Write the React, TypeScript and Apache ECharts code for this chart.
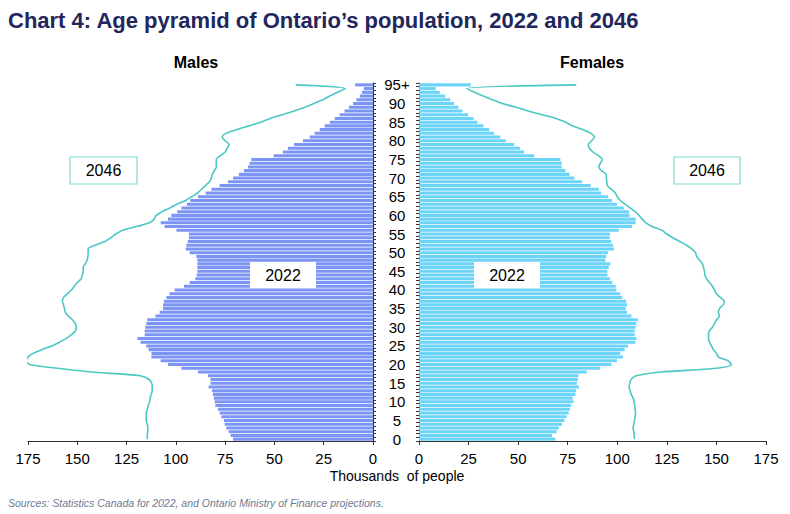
import React, { useEffect, useRef } from 'react';
import * as echarts from 'echarts';

// Ages 0..94 then 95+
const ages: string[] = Array.from({ length: 95 }, (_, i) => String(i)).concat(['95+']);

// Thousands of people, index = age
const males2022: number[] = [
  71, 72.2, 73.2, 74.4, 75.2, 75.6, 76.9, 77.8, 78.6, 80,
  80.3, 80.7, 81.2, 81.7, 83.4, 82.4, 82.4, 83.7, 88.8, 97.2,
  104, 107.7, 112.4, 112.4, 113.8, 115, 117.9, 119.5, 115.8, 115.8,
  115.5, 115, 114.5, 110.4, 108.2, 106.5, 106.5, 106, 104.8, 103.2,
  100.6, 95.9, 93, 90.1, 89.4, 89.1, 89.1, 89.1, 89.1, 89.6,
  93, 95, 94.7, 93.9, 93.4, 93.4, 99.7, 105.7, 107.7, 104,
  102.3, 99.3, 97.2, 94.4, 92.7, 88.8, 84.9, 82, 77.8, 73.6,
  71, 68, 65.4, 63.4, 62.6, 61.7, 50.4, 45.7, 43.1, 40,
  35.5, 32.1, 29.6, 27, 24.5, 21.9, 19.4, 16.9, 14.4, 12.2,
  10.1, 8.4, 6.7, 5.6, 4.7, 9.1
];

const females2022: number[] = [
  68.8, 67.1, 69.4, 70.5, 72.1, 73.3, 74.5, 75.5, 76.2, 76.7,
  77.9, 77.5, 78.9, 79.2, 80.6, 79.6, 80.1, 80.4, 84.6, 91.4,
  97, 99.8, 102.9, 101.5, 103.7, 105.4, 109.1, 109.6, 108.8, 108.8,
  109.3, 109.6, 110.4, 107.1, 104.9, 104.2, 104.9, 104.5, 102.5, 101.5,
  99.5, 99.2, 97.5, 96.4, 95, 95, 95.7, 96.5, 94, 94.4,
  95.3, 98.3, 97.8, 96.9, 96.1, 96.4, 100.8, 107.4, 109.3, 109.3,
  106.2, 105.9, 103.3, 99.8, 97.3, 95.3, 91.9, 90.7, 86.5, 82.3,
  78.4, 75.9, 73.8, 72, 72, 71.3, 58.2, 53.1, 50.9, 48,
  43.8, 41, 37.9, 35.4, 32.5, 29.5, 27.5, 24.8, 21.9, 19.9,
  17.7, 15.7, 13.2, 10.5, 8.4, 26.1
];

const males2046: number[] = [
  114.5, 114.5, 114.3, 114.2, 114.5, 115, 115, 115, 114.5, 114,
  113.3, 113, 112.5, 112, 112, 112.3, 113.5, 118, 143, 160,
  174, 176, 175, 172.5, 168, 163, 159, 155.5, 153, 151,
  150.5, 151, 152.5, 154.5, 156, 156.5, 157, 157.5, 157, 155,
  153, 151.5, 150, 148, 147.5, 147, 147, 146, 145, 144.6,
  144.5, 144.5, 141, 136, 133, 130.5, 127, 120, 113.5, 111,
  110, 107, 103, 99.5, 95, 92, 89, 87, 85, 83,
  82, 81.5, 80.5, 79.5, 79.5, 79.5, 77.5, 75, 74, 73,
  75, 76.5, 74.5, 69, 63, 57, 52, 46, 40, 34.5,
  30, 25.5, 22, 18, 14, 39.2
];

const females2046: number[] = [
  108.7, 108.5, 108.3, 108, 108.3, 108.7, 109, 109.2, 109, 108.8,
  108.5, 108, 107, 106.5, 106, 106.3, 107, 109.5, 122, 150,
  157.5, 156, 151, 150, 148.5, 147.5, 146.5, 146, 146, 146.4,
  148, 149, 150, 151.5, 151, 151.5, 153.4, 154, 152, 150,
  149, 148, 146.5, 145, 144.2, 144, 143.5, 143, 141.5, 140,
  139.5, 137.5, 135, 131.5, 128, 125, 122.5, 117.5, 114.5, 112.5,
  111, 109, 106.5, 104, 101.5, 100, 99, 97, 95, 94.7,
  94.5, 94.4, 92, 90.7, 91.5, 92.4, 90.5, 87.7, 86, 85.3,
  87, 88.5, 86.8, 82.6, 77.5, 74, 69, 62, 55, 49,
  42, 37, 32.5, 28, 24, 79.3
];

const xMax = 175;
const xInterval = 25;

const FONT = 'Liberation Sans, Arial, sans-serif';
const MALE_COLOR = '#7B94F5';
const FEMALE_COLOR = '#6CD4F8';
const LINE_COLOR = '#4CC8C2';

const App: React.FC = () => {
  const chartRef = useRef<HTMLDivElement>(null);

  useEffect(() => {
    document.body.style.margin = '0';
    if (!chartRef.current) return;
    const chart = echarts.init(chartRef.current, undefined, { renderer: 'svg' });

    const axisLabel = { color: '#000', fontSize: 15, fontFamily: FONT, margin: 10 };
    const axisLine = { show: true, lineStyle: { color: '#333', width: 1 } };

    // label box drawn over the series
    const box = (x: number, y: number, w: number, h: number, label: string, border: boolean) => [
      {
        type: 'rect', z: 100,
        shape: { x, y, width: w, height: h },
        style: { fill: '#fff', stroke: border ? '#7FD9D5' : 'none', lineWidth: 1.2 }
      },
      {
        type: 'text', z: 101,
        x: x + w / 2,
        y: y + h / 2,
        style: { text: label, fill: '#000', font: `16px ${FONT}`, textAlign: 'center', textVerticalAlign: 'middle' }
      }
    ];

    const option: any = {
      animation: false,
      backgroundColor: '#fff',
      grid: [
        { left: 28, width: 345, top: 83, height: 358 },
        { left: 419, width: 347, top: 83, height: 358 }
      ],
      xAxis: [
        {
          gridIndex: 0, type: 'value', inverse: true, min: 0, max: xMax, interval: xInterval,
          axisLine, axisTick: { show: true, length: 4, lineStyle: { color: '#333' } },
          axisLabel, splitLine: { show: false }
        },
        {
          gridIndex: 1, type: 'value', min: 0, max: xMax, interval: xInterval,
          axisLine, axisTick: { show: true, length: 4, lineStyle: { color: '#333' } },
          axisLabel, splitLine: { show: false }
        }
      ],
      yAxis: [
        {
          gridIndex: 0, type: 'category', data: ages, position: 'right',
          axisLine, axisTick: { show: true, interval: 0, length: 3, lineStyle: { color: '#333' } },
          axisLabel: {
            ...axisLabel, margin: 24, align: 'center',
            interval: (i: number) => i % 5 === 0
          }
        },
        {
          gridIndex: 1, type: 'category', data: ages, position: 'left',
          axisLine, axisTick: { show: true, interval: 0, length: 3, lineStyle: { color: '#333' } },
          axisLabel: { show: false }
        }
      ],
      series: [
        {
          name: 'Males 2022', type: 'bar', xAxisIndex: 0, yAxisIndex: 0, data: males2022,
          barCategoryGap: '18%', itemStyle: { color: MALE_COLOR }
        },
        {
          name: 'Females 2022', type: 'bar', xAxisIndex: 1, yAxisIndex: 1, data: females2022,
          barCategoryGap: '18%', itemStyle: { color: FEMALE_COLOR }
        },
        {
          name: 'Males 2046', type: 'line', xAxisIndex: 0, yAxisIndex: 0, data: males2046,
          smooth: 0.3, symbol: 'none', lineStyle: { color: LINE_COLOR, width: 1.6 }, z: 5
        },
        {
          name: 'Females 2046', type: 'line', xAxisIndex: 1, yAxisIndex: 1, data: females2046,
          smooth: 0.3, symbol: 'none', lineStyle: { color: LINE_COLOR, width: 1.6 }, z: 5
        }
      ],
      graphic: [
        {
          type: 'text', x: 8, y: 20,
          style: {
            text: 'Chart 4: Age pyramid of Ontario\u2019s population, 2022 and 2046',
            fill: '#23265B', font: `bold 22px ${FONT}`, textVerticalAlign: 'middle'
          }
        },
        {
          type: 'text', x: 196, y: 62,
          style: { text: 'Males', fill: '#000', font: `bold 16px ${FONT}`, textAlign: 'center', textVerticalAlign: 'middle' }
        },
        {
          type: 'text', x: 592, y: 62,
          style: { text: 'Females', fill: '#000', font: `bold 16px ${FONT}`, textAlign: 'center', textVerticalAlign: 'middle' }
        },
        {
          type: 'text', x: 397, y: 476,
          style: { text: 'Thousands  of people', fill: '#000', font: `14px ${FONT}`, textAlign: 'center', textVerticalAlign: 'middle' }
        },
        {
          type: 'text', x: 8, y: 503,
          style: {
            text: 'Sources: Statistics Canada for 2022, and Ontario Ministry of Finance projections.',
            fill: '#6E7A92', font: `italic 10.5px ${FONT}`, textVerticalAlign: 'middle'
          }
        },
        ...box(70, 157, 67, 27, '2046', true),
        ...box(674, 157, 66, 27, '2046', true),
        ...box(250, 262, 66, 26, '2022', false),
        ...box(474, 262, 66, 26, '2022', false)
      ]
    };

    chart.setOption(option);
    return () => chart.dispose();
  }, []);

  return <div ref={chartRef} style={{ width: 790, height: 514 }} />;
};

export default App;
